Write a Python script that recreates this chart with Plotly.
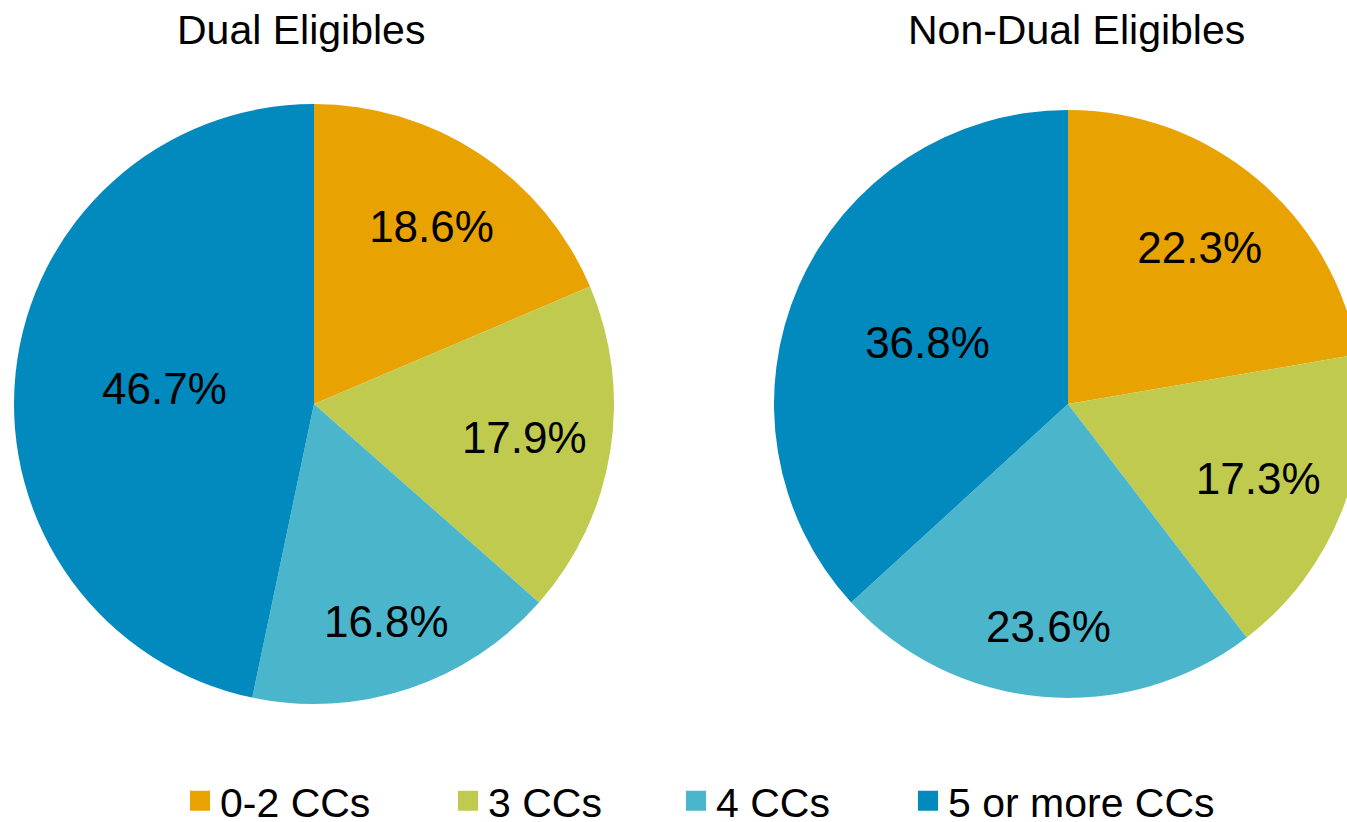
import plotly.graph_objects as go

categories = ["0-2 CCs", "3 CCs", "4 CCs", "5 or more CCs"]
dual_values = [18.6, 17.9, 16.8, 46.7]
nondual_values = [22.3, 17.3, 23.6, 36.8]
titles = ["Dual Eligibles", "Non-Dual Eligibles"]
colors = ["#E8A202", "#BFCA4E", "#4BB6CB", "#028ABE"]

W, H = 1400, 822
FONT = "Liberation Sans, Arial, sans-serif"
LABEL_SIZE = 44
TEXT_SIZE = 41

def px_x(v):
    return v / W

def px_y(v):
    return 1 - v / H

# style: pie placement (px box) and, per slice, which label ring (hole size) carries its text
charts = [
    dict(values=dual_values, title=titles[0], box=(14, 104, 614, 704), title_x=301,
         label_ring=[0.42, 0.42, 0.53, 0.0]),
    dict(values=nondual_values, title=titles[1], box=(774, 110, 1362, 698), title_x=1076,
         label_ring=[0.39, 0.39, 0.52, 0.0]),
]

fig = go.Figure()
annotations = []
for ch in charts:
    x0, y0, x1, y1 = ch["box"]
    dom = dict(x=[px_x(x0), px_x(x1)], y=[px_y(y1), px_y(y0)])
    labels_txt = [f"{v:.1f}%" for v in ch["values"]]
    rings = sorted(set(ch["label_ring"]))
    # base pie: slices (+ labels on the plain ring)
    fig.add_trace(go.Pie(
        labels=categories, values=ch["values"], sort=False, direction="clockwise", rotation=0,
        marker=dict(colors=colors, line=dict(width=0)),
        text=[t if r == 0.0 else "" for t, r in zip(labels_txt, ch["label_ring"])],
        textinfo="text", textposition="inside", insidetextorientation="horizontal",
        textfont=dict(size=LABEL_SIZE, color="black", family=FONT),
        domain=dom, showlegend=False, hoverinfo="label+percent",
    ))
    # transparent label layers for the remaining slices
    for hole in rings:
        if hole == 0.0:
            continue
        fig.add_trace(go.Pie(
            labels=categories, values=ch["values"], sort=False, direction="clockwise", rotation=0,
            hole=hole,
            marker=dict(colors=["rgba(0,0,0,0)"] * len(categories), line=dict(width=0)),
            text=[t if r == hole else "" for t, r in zip(labels_txt, ch["label_ring"])],
            textinfo="text", textposition="inside", insidetextorientation="horizontal",
            textfont=dict(size=LABEL_SIZE, color="black", family=FONT),
            domain=dom, showlegend=False, hoverinfo="skip",
        ))
    annotations.append(dict(
        text=ch["title"], x=px_x(ch["title_x"]), y=px_y(30), xref="paper", yref="paper",
        showarrow=False, xanchor="center", yanchor="middle",
        font=dict(size=TEXT_SIZE, family=FONT, color="black"),
    ))

# legend entries: one legend per category so each sits where the reference has it
legend_x_px = [200, 468, 696, 928]
legend_ids = ["legend", "legend2", "legend3", "legend4"]
legend_layout = {}
for cat, col, lid, lx in zip(categories, colors, legend_ids, legend_x_px):
    fig.add_trace(go.Scatter(
        x=[None], y=[None], mode="markers", name=cat, legend=lid,
        marker=dict(symbol="square", size=16, color=col, line=dict(color=col, width=4)),
        showlegend=True, hoverinfo="skip",
    ))
    legend_layout[lid] = dict(
        orientation="h", xanchor="left", x=px_x(lx - 20), yanchor="middle", y=px_y(801),
        font=dict(size=TEXT_SIZE, family=FONT, color="black"), bgcolor="rgba(0,0,0,0)",
        borderwidth=0,
    )

fig.update_layout(
    width=W, height=H,
    margin=dict(l=0, r=0, t=0, b=0, autoexpand=False),
    paper_bgcolor="white", plot_bgcolor="white",
    font=dict(family=FONT, color="black"),
    showlegend=True,
    xaxis=dict(visible=False), yaxis=dict(visible=False),
    annotations=annotations,
    **legend_layout,
)

fig.write_html(
    "out.html",
    config={"displayModeBar": False},
    post_script="document.body.style.margin='0';document.body.style.overflow='hidden';document.documentElement.style.overflow='hidden';",
)
